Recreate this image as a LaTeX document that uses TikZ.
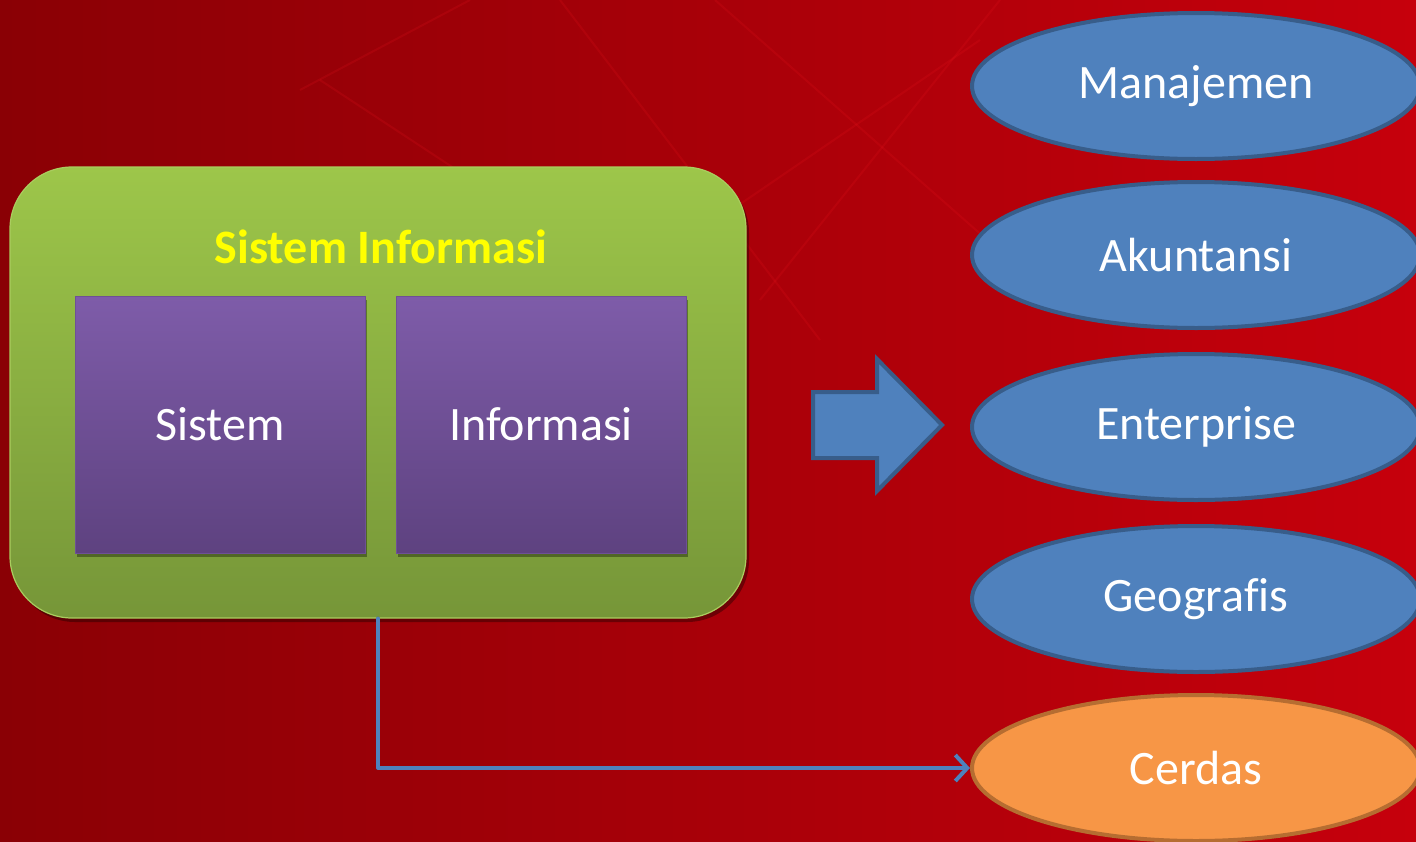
\documentclass[tikz,border=0pt]{standalone}
\usepackage{fontspec}
\setmainfont{Carlito}[Ligatures=NoCommon]
\usetikzlibrary{arrows.meta,shadows,calc,shapes.geometric}
\definecolor{bgL}{RGB}{138,0,5}
\definecolor{bgR}{RGB}{198,0,12}
\definecolor{grT}{RGB}{157,198,74}
\definecolor{grB}{RGB}{118,150,56}
\definecolor{grE}{RGB}{170,205,95}
\definecolor{puT}{RGB}{126,92,169}
\definecolor{puB}{RGB}{94,66,128}
\definecolor{puE}{RGB}{110,80,150}
\definecolor{blF}{RGB}{79,129,189}
\definecolor{blE}{RGB}{56,93,138}
\definecolor{orF}{RGB}{247,150,70}
\definecolor{orE}{RGB}{182,109,49}
\definecolor{ttl}{RGB}{255,255,0}
\tikzset{
  x=1pt,y=-1pt,
  greenbox/.style={rounded corners=62pt,top color=grT,bottom color=grB,draw=grE,line width=1.2pt,
    minimum width=736pt,minimum height=451pt,inner sep=0pt,
    drop shadow={shadow xshift=3pt,shadow yshift=-4pt,opacity=0.35,fill=black}},
  purplebox/.style={top color=puT,bottom color=puB,draw=puE,line width=1pt,
    minimum width=290pt,minimum height=257pt,inner sep=0pt,text=white,font=\fontsize{48}{52}\selectfont,
    drop shadow={shadow xshift=2pt,shadow yshift=-4pt,opacity=0.35,fill=black}},
  ovalblue/.style={ellipse,fill=blF,draw=blE,line width=4pt,minimum width=448pt,minimum height=146pt,
    inner sep=0pt,text=white,font=\fontsize{48}{52}\selectfont},
  ovalorange/.style={ovalblue,fill=orF,draw=orE},
  conn/.style={draw=blF,line width=4pt,line cap=round,line join=round,
    -{Straight Barb[length=12pt,width=26pt,line width=4pt]}},
  bgline/.style={draw={rgb,255:red,235;green,20;blue,30},line width=2pt,opacity=0.18},
}
\begin{document}
\begin{tikzpicture}
\useasboundingbox (0,0) rectangle (1416,841);
% background
\fill[left color=bgL,right color=bgR] (0,0) rectangle (1416,841);
\draw[bgline] (470,0) -- (300,90);
\draw[bgline] (715,0) -- (1010,260);
\draw[bgline] (1000,0) -- (760,300);
\draw[bgline] (560,0) -- (820,340);
\draw[bgline] (320,80) -- (700,330);
\draw[bgline] (600,300) -- (980,40);
% green container
\node[greenbox] (si) at (378,392.5) {};
\node[text=ttl,font=\bfseries\fontsize{48}{52}\selectfont,inner sep=0pt] (ttl) at (381,247) {Sistem Informasi};
\node[purplebox] (s1) at (220,424.5) {Sistem};
\node[purplebox] (s2) at (541,424.5) {Informasi};
% block arrow
\path[fill=blF,draw=blE,line width=4pt,line join=miter]
  (813,392) -- (877,392) -- (877,359) -- (942,425) -- (877,491) -- (877,458) -- (813,458) -- cycle;
% ellipses
\node[ovalblue] (e1) at (1196,86) {Manajemen};
\node[ovalblue] (e2) at (1196,255) {Akuntansi};
\node[ovalblue] (e3) at (1196,427) {Enterprise};
\node[ovalblue] (e4) at (1196,599) {Geografis};
\node[ovalorange] (e5) at (1196,768) {Cerdas};
% connector
\draw[conn,draw=black,opacity=0.25,shift={(2pt,-3pt)}] (si.south) |- (e5.west);
\draw[conn] (si.south) |- (e5.west);
\end{tikzpicture}
\end{document}
